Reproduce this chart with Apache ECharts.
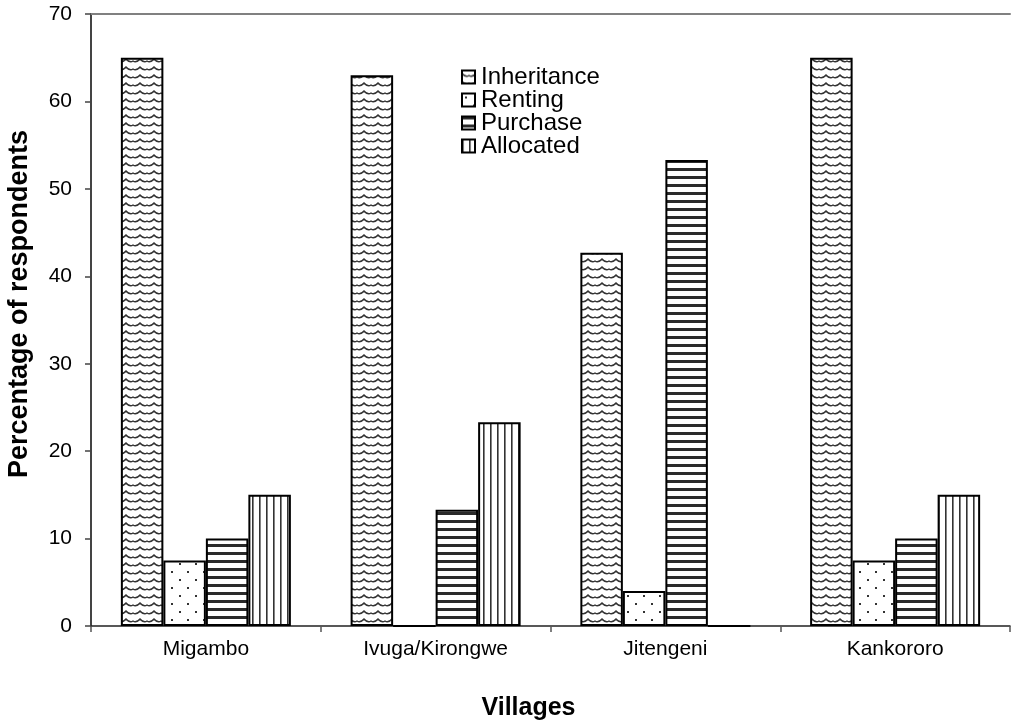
<!DOCTYPE html>
<html>
<head>
<meta charset="utf-8">
<script src="https://cdn.jsdelivr.net/npm/echarts@6/dist/echarts.min.js"></script>
<style>
html,body{margin:0;padding:0;background:#fff;}
#chart{width:1011px;height:728px;}
</style>
</head>
<body>
<div id="chart"></div>
<script>
const villages = ['Migambo', 'Ivuga/Kirongwe', 'Jitengeni', 'Kankororo'];
const inheritance = [65, 63, 42.7, 65];
const renting = [7.5, 0, 4, 7.5];
const purchase = [10, 13.3, 53.3, 10];
const allocated = [15, 23.3, 0, 15];
const seriesNames = ['Inheritance', 'Renting', 'Purchase', 'Allocated'];
const yTicks = { min: 0, max: 70, interval: 10 };

function makeCanvas(w, h, draw) {
  const c = document.createElement('canvas');
  c.width = w; c.height = h;
  const ctx = c.getContext('2d');
  ctx.fillStyle = '#fff';
  ctx.fillRect(0, 0, w, h);
  draw(ctx);
  return c;
}
const wavePat = makeCanvas(14, 8, ctx => {
  ctx.strokeStyle = '#333';
  ctx.lineWidth = 1.4;
  ctx.beginPath();
  ctx.moveTo(-1, 2);
  ctx.quadraticCurveTo(3.5, 7.5, 7, 5);
  ctx.quadraticCurveTo(10.5, 7.5, 15, 2);
  ctx.stroke();
});
const dotPat = makeCanvas(16, 16, ctx => {
  ctx.fillStyle = '#333';
  ctx.fillRect(3, 3, 2, 2);
  ctx.fillRect(11, 11, 2, 2);
});
const hPat = makeCanvas(8, 8, ctx => {
  ctx.fillStyle = '#2a2a2a';
  ctx.fillRect(0, 0, 8, 3);
});
const vPat = makeCanvas(7, 8, ctx => {
  ctx.fillStyle = '#333';
  ctx.fillRect(0, 0, 1.6, 8);
});
const patterns = [wavePat, dotPat, hPat, vPat];
const values = [inheritance, renting, purchase, allocated];

const chart = echarts.init(document.getElementById('chart'), null, { renderer: 'canvas' });
const font = 'Liberation Sans, Arial, sans-serif';
chart.setOption({
  animation: false,
  backgroundColor: '#fff',
  textStyle: { fontFamily: font },
  grid: { left: 91, right: 1, top: 14, bottom: 102, containLabel: false, outerBoundsMode: 'none' },
  legend: {
    orient: 'vertical',
    left: 456,
    top: 60,
    itemWidth: 13,
    itemHeight: 13,
    itemGap: -1,
    icon: 'rect',
    itemStyle: { borderColor: '#000', borderWidth: 2 },
    textStyle: { fontSize: 24, color: '#000', lineHeight: 22, padding: [0, 0, 0, 1] },
    data: seriesNames
  },
  xAxis: [{
    type: 'category',
    data: villages,
    axisLine: { lineStyle: { color: '#222', width: 1.5 } },
    axisTick: { show: true, length: 6, lineStyle: { color: '#555', width: 1.5 } },
    axisLabel: { fontSize: 21, color: '#000', margin: 13 },
    name: 'Villages',
    nameLocation: 'middle',
    nameGap: 70,
    nameTextStyle: { fontSize: 25, fontWeight: 'bold', color: '#000', padding: [0, 44, 0, 0] }
  }, {
    type: 'category',
    position: 'top',
    data: villages,
    axisLine: { lineStyle: { color: '#808080', width: 2 } },
    axisTick: { show: false },
    axisLabel: { show: false }
  }],
  yAxis: {
    type: 'value',
    min: yTicks.min,
    max: yTicks.max,
    interval: yTicks.interval,
    axisLine: { show: true, lineStyle: { color: '#444', width: 2 } },
    axisTick: { show: true, length: 6, lineStyle: { color: '#444', width: 1.5 } },
    splitLine: { show: false },
    axisLabel: { fontSize: 21, color: '#000', margin: 19 },
    name: 'Percentage of respondents',
    nameLocation: 'middle',
    nameRotate: 90,
    nameGap: 58,
    nameTextStyle: { fontSize: 27, fontWeight: 'bold', color: '#000', padding: [0, 0, 0, 32] }
  },
  series: seriesNames.map((name, i) => ({
    name: name,
    type: 'bar',
    data: values[i],
    barGap: '0%',
    barCategoryGap: '26%',
    itemStyle: {
      color: { image: patterns[i], repeat: 'repeat' },
      borderColor: '#000',
      borderWidth: 2
    },
    emphasis: { disabled: true }
  }))
});
</script>
</body>
</html>
